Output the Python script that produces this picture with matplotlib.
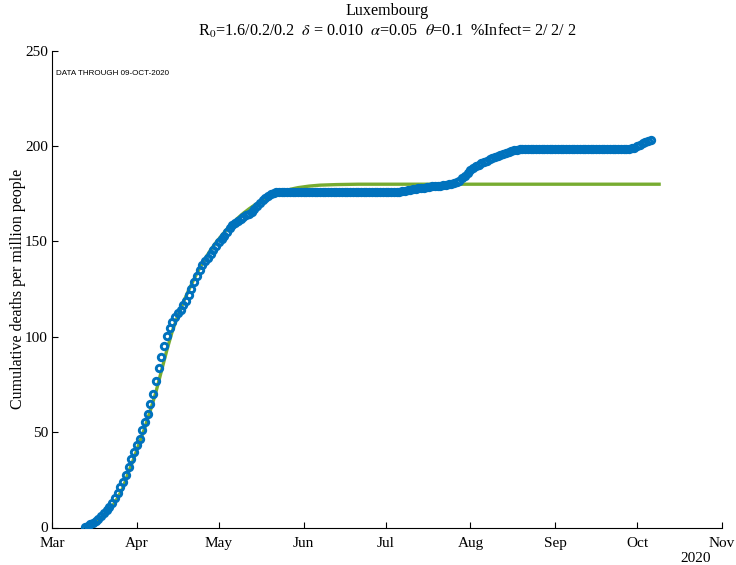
import matplotlib
matplotlib.use('Agg')
import matplotlib.pyplot as plt
import matplotlib.dates as mdates
import numpy as np
from datetime import datetime, timedelta

# ---------------- data ----------------
country = 'Luxembourg'
first_obs_date = '2020-03-13'
obs_per_million = [
    0.5, 1.0, 1.6, 2.4, 3.5, 4.6, 5.8, 7.5, 9.0, 10.5,
    13.0, 15.5, 18.0, 21.0, 24.0, 27.5, 31.5, 36.0, 39.5, 43.0,
    46.5, 51.0, 55.5, 59.5, 64.5, 70.0, 77.0, 83.5, 89.5, 95.0,
    100.5, 104.5, 108.0, 110.5, 112.3, 114.2, 116.5, 119.0, 122.0, 125.0,
    128.5, 132.0, 135.0, 137.5, 139.5, 141.5, 143.5, 145.5, 147.5, 149.5,
    151.5, 153.0, 155.0, 156.8, 158.5, 159.8, 160.8, 161.8, 162.8, 163.7,
    164.5, 165.6, 167.0, 168.6, 170.0, 171.5, 172.8, 173.9, 174.7, 175.3,
    175.7,
    176.0, 176.0, 176.0, 176.0, 176.0, 176.0, 176.0, 176.0, 176.0,
    176.0, 176.0, 176.0, 176.0, 176.0, 176.0, 176.0, 176.0, 176.0,
    176.0, 176.0, 176.0, 176.0, 176.0, 176.0, 176.0, 176.0, 176.0,
    176.0, 176.0, 176.0, 176.0, 176.0, 176.0, 176.0, 176.0, 176.0,
    176.0, 176.0, 176.0, 176.0, 176.0, 176.0, 176.0, 176.0, 176.0,
    176.3, 176.6, 176.9, 177.2, 177.5, 177.7, 177.9, 178.0, 178.2, 178.4,
    178.6, 178.8, 179.0, 179.1, 179.3, 179.5, 179.6, 179.9, 180.3, 180.8,
    181.3, 181.8, 183.0, 184.3, 185.7, 187.2, 188.3, 189.3, 190.2, 191.0,
    191.7, 192.3, 193.0, 193.6, 194.2, 194.8, 195.3, 195.8, 196.3, 196.7,
    197.2, 197.7, 198.1, 198.4, 198.6,
    198.7, 198.7, 198.7, 198.7, 198.7, 198.7, 198.7, 198.7, 198.7, 198.7,
    198.7, 198.7, 198.7, 198.7, 198.7, 198.7, 198.7, 198.7, 198.7, 198.7,
    198.7, 198.7, 198.7, 198.7, 198.7, 198.7, 198.7, 198.7, 198.7, 198.7,
    198.7, 198.7, 198.7, 198.7, 198.7, 198.7, 198.7, 198.7, 198.7,
    198.9, 199.2, 199.8, 200.6, 201.4, 202.0, 202.6, 203.2,
]

model_dates = [
    '2020-03-13', '2020-03-15', '2020-03-17', '2020-03-19', '2020-03-21',
    '2020-03-23', '2020-03-25', '2020-03-27', '2020-03-29', '2020-03-31',
    '2020-04-02', '2020-04-04', '2020-04-06', '2020-04-08', '2020-04-10',
    '2020-04-12', '2020-04-14', '2020-04-16', '2020-04-18', '2020-04-20',
    '2020-04-22', '2020-04-24', '2020-04-26', '2020-04-28', '2020-04-30',
    '2020-05-02', '2020-05-04', '2020-05-06', '2020-05-08', '2020-05-10',
    '2020-05-12', '2020-05-14', '2020-05-16', '2020-05-18', '2020-05-20',
    '2020-05-22', '2020-05-24', '2020-05-26', '2020-05-28', '2020-05-30',
    '2020-06-03', '2020-06-07', '2020-06-13', '2020-06-21', '2020-10-09',
]
model_per_million = [
    0.3, 1.0, 2.5, 4.6, 7.5,
    11.0, 15.5, 21.0, 29.0, 36.5,
    44.5, 52.5, 61.5, 71.0, 82.0,
    93.0, 103.0, 111.0, 118.0, 124.5,
    130.5, 136.0, 141.0, 145.5, 149.5,
    153.0, 156.5, 159.5, 162.3, 164.8,
    167.0, 169.0, 170.8, 172.4, 173.8,
    175.0, 176.0, 176.9, 177.6, 178.2,
    179.0, 179.5, 179.8, 180.0, 180.0,
]

title_line2 = (r'R$_0$=1.6/0.2/0.2  $\delta$ = 0.010  $\alpha$=0.05  '
               r'$\theta$=0.1  %Infect= 2/ 2/ 2')
data_note = 'DATA THROUGH 09-OCT-2020'
y_ticks = [0, 50, 100, 150, 200, 250]
month_labels = ['Mar', 'Apr', 'May', 'Jun', 'Jul', 'Aug', 'Sep', 'Oct', 'Nov']
year_label = '2020'

# ---------------- style ----------------
plt.rcParams['font.family'] = ['Liberation Serif', 'DejaVu Serif']
plt.rcParams['mathtext.fontset'] = 'stix'
blue = '#0072BD'
green = '#77AC30'

fig = plt.figure(figsize=(7.36, 5.65), dpi=100)
ax = fig.add_axes([52/736, 1 - 527.5/565, (722-52)/736, (527.5-50.7)/565])

t0 = datetime.strptime(first_obs_date, '%Y-%m-%d')
obs_dates = [t0 + timedelta(days=i) for i in range(len(obs_per_million))]
mdl_dates = [datetime.strptime(s, '%Y-%m-%d') for s in model_dates]

ax.plot(mdl_dates, model_per_million, '-', color=green, lw=2.4, zorder=2)
ax.plot(obs_dates, obs_per_million, 'o', color=blue, mfc='none',
        ms=4.6, mew=2.1, zorder=3)

ax.set_xlim(datetime(2020, 3, 1), datetime(2020, 11, 1))
ax.set_ylim(0, 250)
month_ticks = [datetime(2020, m, 1) for m in range(3, 12)]
ax.set_xticks(month_ticks)
ax.set_xticklabels(month_labels)
ax.set_yticks(y_ticks)
ax.set_yticklabels([str(v) for v in y_ticks])

for s in ['top', 'right']:
    ax.spines[s].set_visible(False)
for s in ['left', 'bottom']:
    ax.spines[s].set_linewidth(0.8)
ax.tick_params(direction='in', length=4.5, width=0.8, labelsize=11)
ax.tick_params(axis='x', pad=7)
ax.tick_params(axis='y', pad=3)

ax.set_ylabel('Cumulative deaths per million people', fontsize=11.5, labelpad=-1)
ax.set_title(country + '\n' + title_line2, fontsize=11.6, pad=11, linespacing=1.2)

ax.text(0.006, 0.952, data_note, transform=ax.transAxes, fontsize=5.8,
        family=['Liberation Sans', 'DejaVu Sans'], ha='left', va='center')
fig.text(696/736, 1 - 558/565, year_label, ha='center', va='center', fontsize=11)

fig.savefig('out.png', dpi=100)
